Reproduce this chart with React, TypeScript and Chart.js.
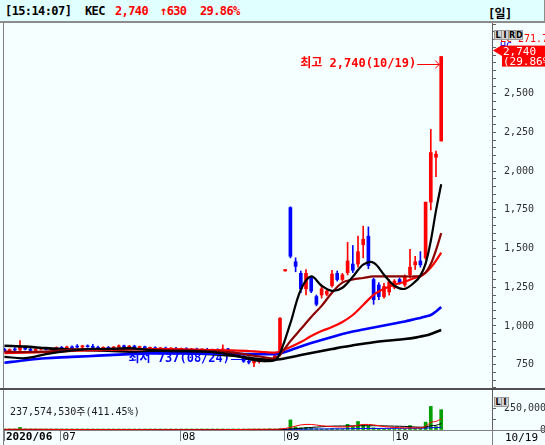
import React, { useEffect, useRef } from 'react';
import { Chart, registerables } from 'chart.js';

Chart.register(...registerables);

const W = 545;
const H = 445;
const BG = '#F5FFFF';
const MONO = '"DejaVu Sans Mono", "Noto Sans CJK KR", monospace';
const UP = '#FF0000';
const DOWN = '#0000FF';

// ---- Daily candles, 2020-06-16 .. 2020-10-19 (KRW) ----
const OPEN = [
  850, 840, 848, 845, 862, 850, 842, 850, 855, 848,
  852, 860, 855, 865, 870, 864, 872, 868, 862, 856,
  860, 855, 864, 872, 864, 870, 861, 866, 856, 860,
  853, 858, 851, 856, 849, 854, 846, 851, 844, 849,
  841, 847, 839, 852, 831, 820, 806, 772, 762, 771,
  778, 783, 790, 815, 1355, 1765, 1415, 1340, 1240, 1310,
  1190, 1200, 1205, 1260, 1340, 1300, 1345, 1400, 1400, 1525,
  1580, 1300, 1265, 1190, 1220, 1250, 1300, 1265, 1330, 1395,
  1420, 1440, 1800, 2090, 2195,
];
const HIGH = [
  858, 852, 860, 905, 870, 858, 855, 862, 860, 858,
  865, 868, 870, 872, 880, 876, 878, 882, 870, 866,
  868, 868, 878, 876, 874, 876, 870, 870, 864, 866,
  862, 864, 860, 862, 858, 860, 856, 857, 854, 856,
  852, 853, 878, 856, 838, 826, 810, 786, 776, 783,
  790, 796, 812, 1055, 1365, 1770, 1440, 1355, 1365, 1320,
  1200, 1265, 1240, 1360, 1355, 1340, 1540, 1520, 1580, 1645,
  1640, 1310, 1280, 1275, 1300, 1300, 1310, 1330, 1495, 1450,
  1480, 1800, 2270, 2130, 2740,
];
const LOW = [
  835, 832, 838, 840, 845, 838, 835, 845, 845, 842,
  848, 850, 852, 855, 860, 858, 862, 860, 852, 850,
  852, 852, 860, 860, 858, 858, 854, 852, 848, 850,
  846, 848, 843, 846, 842, 843, 840, 841, 838, 838,
  834, 836, 836, 826, 815, 800, 765, 755, 737, 760,
  768, 774, 784, 805, 1355, 1440, 1350, 1215, 1200, 1215,
  1130, 1180, 1195, 1250, 1290, 1290, 1330, 1345, 1380, 1440,
  1370, 1140, 1170, 1180, 1200, 1240, 1270, 1255, 1310, 1365,
  1380, 1430, 1750, 1965, 2195,
];
const CLOSE = [
  840, 848, 845, 862, 850, 842, 850, 855, 848, 852,
  860, 855, 865, 858, 864, 872, 866, 862, 856, 860,
  855, 864, 872, 864, 870, 861, 866, 856, 860, 853,
  858, 851, 856, 849, 854, 846, 851, 844, 849, 841,
  847, 839, 852, 831, 820, 806, 772, 766, 771, 778,
  783, 789, 808, 1050, 1365, 1450, 1385, 1240, 1340, 1225,
  1140, 1240, 1225, 1335, 1300, 1330, 1420, 1360, 1480, 1560,
  1390, 1170, 1190, 1255, 1285, 1290, 1280, 1315, 1380, 1415,
  1395, 1800, 2120, 2110, 2740,
];
// volume, thousand shares
const VOLUME = [
  6000, 5000, 5000, 30000, 12000, 6000, 5000, 5000, 4000, 4000,
  5000, 6000, 7000, 5000, 6000, 5000, 5000, 6000, 4000, 4000,
  4000, 5000, 6000, 5000, 5000, 4000, 4000, 4000, 4000, 3000,
  3000, 4000, 4000, 3000, 4000, 3000, 3000, 3000, 3000, 3000,
  3000, 3000, 8000, 6000, 6000, 7000, 10000, 8000, 9000, 6000,
  6000, 14000, 10000, 15000, 6000, 118000, 35000, 25000, 30000, 20000,
  15000, 12000, 10000, 18000, 14000, 12000, 66000, 40000, 100000, 60000,
  45000, 25000, 18000, 15000, 12000, 10000, 9000, 14000, 52000, 20000,
  18000, 92000, 276000, 40000, 237575,
];

// ---- Moving averages, read at these day indexes ----
const MA_IDX = [0, 4, 8, 12, 16, 20, 24, 28, 32, 36, 40, 44, 48, 50, 52, 53, 55, 57, 59, 61, 63, 65, 67, 69, 71, 73, 75, 77, 79, 80, 81, 82, 83, 84];
const MA5 = [801, 792, 818, 838, 851, 851, 857, 844, 838, 838, 831, 812, 779, 773, 779, 823, 1018, 1234, 1320, 1260, 1227, 1247, 1318, 1396, 1409, 1331, 1260, 1240, 1286, 1325, 1403, 1550, 1745, 1915];
const MA10 = [835, 832, 835, 845, 850, 852, 852, 848, 845, 843, 838, 828, 808, 798, 792, 815, 902, 980, 1058, 1130, 1215, 1280, 1300, 1310, 1320, 1320, 1320, 1320, 1320, 1325, 1345, 1400, 1490, 1600];
const MA20 = [825, 828, 832, 838, 843, 846, 848, 850, 850, 848, 845, 842, 836, 832, 828, 835, 864, 896, 935, 967, 993, 1026, 1071, 1136, 1201, 1240, 1266, 1286, 1312, 1320, 1344, 1377, 1422, 1474];
const MA60 = [762, 779, 792, 799, 805, 812, 818, 823, 823, 821, 821, 821, 818, 818, 818, 823, 844, 867, 890, 909, 929, 948, 964, 977, 990, 1003, 1016, 1029, 1045, 1052, 1062, 1071, 1094, 1123];
const MA120 = [872, 867, 857, 849, 844, 840, 834, 831, 828, 825, 818, 808, 790, 784, 782, 785, 798, 812, 825, 838, 851, 864, 875, 885, 895, 903, 909, 916, 925, 932, 938, 948, 961, 974];
const VMA5 = [8000, 9000, 7000, 6000, 5000, 5000, 5000, 4000, 4000, 3000, 3000, 5000, 8000, 8000, 9000, 10000, 30000, 60000, 65000, 50000, 40000, 35000, 45000, 65000, 60000, 40000, 30000, 25000, 25000, 25000, 40000, 90000, 100000, 130000];
const VMA20 = [6000, 6000, 6500, 6500, 6000, 5500, 5000, 5000, 4500, 4000, 3500, 4000, 5000, 5500, 6000, 7000, 12000, 20000, 30000, 38000, 45000, 47000, 48000, 50000, 50000, 48000, 45000, 42000, 35000, 33000, 36000, 50000, 55000, 75000];
const VMA60 = [5000, 5000, 5500, 5500, 5500, 5500, 5500, 5000, 5000, 5000, 4500, 4500, 4500, 4500, 5000, 5500, 8000, 9000, 11000, 12000, 13000, 14000, 15500, 17000, 18000, 19000, 19500, 20000, 20500, 21000, 22000, 27000, 28000, 32000];

// ---- Axis labels ----
const MONTH_LABELS = ['2020/06', '07', '08', '09', '10'];
const MONTH_START = [0, 11, 34, 54, 75];
const PRICE_LABELS = [750, 1000, 1250, 1500, 1750, 2000, 2250, 2500];
const PRICE_MINOR = { from: 600, to: 2950, step: 50 };
const VOL_TICKS = [0, 125000, 250000];
const VOL_LABELS = ['0', '', '250,000'];
const HIGH_DATE = '10/19';
const LOW_DATE = '08/24';
const LAST_DATE = '10/19';
const CLOCK = '15:14:07';
const TICKER = 'KEC';
const TODAY_VOLUME = 237574530;
const VOLUME_RATE = '411.45%';

const X_MIN = -0.08;
const X_MAX = 93.77;
const PRICE_MIN = 593;
const PRICE_MAX = 2957;
const VOL_MAX = 480000;

const fmt = (v: number) => v.toLocaleString('en-US');
const LAST = CLOSE.length - 1;
const CHANGE = CLOSE[LAST] - CLOSE[LAST - 1];
const CHANGE_PCT = ((CHANGE / CLOSE[LAST - 1]) * 100).toFixed(2) + '%';

function argMax(a: number[]) {
  let k = 0;
  a.forEach((v, i) => { if (v > a[k]) k = i; });
  return k;
}
function argMin(a: number[]) {
  let k = 0;
  a.forEach((v, i) => { if (v < a[k]) k = i; });
  return k;
}

function pointerLabel(ctx: CanvasRenderingContext2D, text: string, tipX: number, y: number, len: number, color: string) {
  ctx.fillStyle = color;
  ctx.strokeStyle = color;
  ctx.lineWidth = 1;
  const sx = tipX - len;
  const yy = Math.round(y);
  ctx.fillText(text, sx - 1, y);
  ctx.beginPath();
  ctx.moveTo(sx, yy + 0.5);
  ctx.lineTo(tipX, yy + 0.5);
  ctx.moveTo(tipX - 4, yy - 3.5);
  ctx.lineTo(tipX, yy + 0.5);
  ctx.lineTo(tipX - 4, yy + 4.5);
  ctx.stroke();
}

const overlayPlugin = {
  id: 'overlay',
  beforeDatasetsDraw(chart: any) {
    const { ctx, scales } = chart;
    const xs = scales.x;
    const ys = scales.y;
    const hi = argMax(HIGH);
    const lo = argMin(LOW);
    ctx.save();
    ctx.font = `bold 12px ${MONO}`;
    ctx.textBaseline = 'middle';
    ctx.textAlign = 'right';
    pointerLabel(ctx, `최고 ${fmt(HIGH[hi])}(${HIGH_DATE})`, xs.getPixelForValue(hi) - 2, ys.getPixelForValue(HIGH[hi]) + 7, 22, UP);
    pointerLabel(ctx, `최저 ${fmt(LOW[lo])}(${LOW_DATE})`, xs.getPixelForValue(lo) - 2, ys.getPixelForValue(LOW[lo]) - 8, 21, DOWN);
    ctx.restore();
  },
  afterDraw(chart: any) {
    const { ctx, chartArea: ca, scales } = chart;
    const ys = scales.y;
    const yv = scales.yv;
    ctx.save();
    ctx.fillStyle = '#808080';
    ctx.fillRect(ca.left - 1, ca.top, 1, H - ca.top);
    ctx.fillRect(ca.right, ca.bottom, 1, H - ca.bottom);
    ctx.fillRect(ca.right, ca.bottom, W - ca.right, 1);
    ctx.fillStyle = '#505050';
    ctx.fillRect(0, Math.round(yv.top) - 1, W, 2);

    ctx.font = `10px ${MONO}`;
    ctx.textAlign = 'left';
    ctx.textBaseline = 'middle';
    ctx.fillStyle = UP;
    ctx.fillText('LC 271.7', ca.right + 8, 39);
    ctx.fillStyle = DOWN;
    ctx.fillText('HC', ca.right + 8, 47);

    const yc = ys.getPixelForValue(CLOSE[LAST]);
    const bx = ca.right + 10;
    ctx.fillStyle = UP;
    ctx.beginPath();
    ctx.moveTo(ca.right + 1, yc - 6);
    ctx.lineTo(bx, yc - 11.5);
    ctx.lineTo(bx, yc - 0.5);
    ctx.closePath();
    ctx.fill();
    ctx.fillRect(bx, yc - 11, W - bx, 21);
    ctx.fillStyle = '#FFFFFF';
    ctx.font = `11px ${MONO}`;
    ctx.fillText(fmt(CLOSE[LAST]), bx + 1, yc - 4);
    ctx.fillText(`(${CHANGE_PCT}`, bx + 1, yc + 6);
    ctx.restore();
  },
};

const candleColor = (c: any) => (CLOSE[c.dataIndex] >= OPEN[c.dataIndex] ? UP : DOWN);

const maLine = (vals: number[], color: string, width: number, order: number, axis = 'y') => ({
  type: 'line' as const,
  data: MA_IDX.map((x, j) => ({ x, y: vals[j] })),
  borderColor: color,
  borderWidth: width,
  pointRadius: 0,
  tension: 0.35,
  fill: false,
  yAxisID: axis,
  order,
});

// right-aligned labels in a monospace font
const padTo = (s: string, n: number) => (s ? s.padStart(n, ' ') : '');

export default function App() {
  const ref = useRef<HTMLCanvasElement>(null);

  useEffect(() => {
    document.body.style.margin = '0';
    const tickGrid = { drawOnChartArea: false, drawTicks: true, tickLength: 4, color: '#606060' };
    const chart = new Chart(ref.current as HTMLCanvasElement, {
      type: 'bar',
      data: {
        datasets: [
          maLine(MA5, '#000000', 2.2, 1),
          maLine(MA10, '#8C0000', 2.2, 2),
          maLine(MA20, '#FF0000', 2.2, 3),
          maLine(MA60, '#0000FF', 2.6, 4),
          maLine(MA120, '#000000', 2.6, 5),
          maLine(VMA5, '#FF0000', 1, 6, 'yv'),
          maLine(VMA20, '#000000', 1, 7, 'yv'),
          maLine(VMA60, '#0000FF', 1, 8, 'yv'),
          {
            type: 'bar',
            data: OPEN.map((_, i) => ({ x: i, y: [LOW[i], HIGH[i]] })),
            backgroundColor: candleColor,
            barThickness: 1,
            grouped: false,
            yAxisID: 'y',
            order: 11,
          },
          {
            type: 'bar',
            data: OPEN.map((o, i) => ({ x: i, y: [o, CLOSE[i]] })),
            backgroundColor: candleColor,
            barThickness: 3,
            minBarLength: 1,
            grouped: false,
            yAxisID: 'y',
            order: 10,
          },
          {
            type: 'bar',
            data: VOLUME.map((v, i) => ({ x: i, y: v })),
            backgroundColor: '#00A000',
            barThickness: 3,
            minBarLength: 1,
            grouped: false,
            yAxisID: 'yv',
            order: 12,
          },
        ] as any,
      },
      options: {
        animation: false,
        responsive: false,
        maintainAspectRatio: false,
        events: [],
        layout: { padding: { left: 4, top: 23, right: 0, bottom: 0 } },
        plugins: { legend: { display: false }, tooltip: { enabled: false } },
        scales: {
          x: {
            type: 'linear',
            min: X_MIN,
            max: X_MAX,
            offset: false,
            grid: { offset: false, drawOnChartArea: false, drawTicks: true, tickLength: 11, color: '#808080' },
            border: { display: true, color: '#808080' },
            ticks: {
              autoSkip: false,
              maxRotation: 0,
              minRotation: 0,
              align: 'start',
              labelOffset: 2,
              padding: -10,
              color: '#000000',
              font: (c: any) => (c.index === 0
                ? { family: MONO, size: 11, weight: 'bold' }
                : { family: MONO, size: 11 }),
              callback: (_v: any, i: number) => MONTH_LABELS[i] ?? '',
            },
            afterBuildTicks: (s: any) => {
              s.ticks = MONTH_START.map((m) => ({ value: Math.max(m - 0.2, X_MIN) }));
            },
            afterFit: (s: any) => { s.height = 15; },
          },
          y: {
            type: 'linear',
            position: 'right',
            stack: 'panes',
            stackWeight: 366,
            min: PRICE_MIN,
            max: PRICE_MAX,
            grid: tickGrid,
            border: { display: true, color: '#606060' },
            ticks: {
              autoSkip: false,
              crossAlign: 'near',
              padding: 8,
              color: '#303030',
              font: { family: MONO, size: 10 },
              callback: (v: any) => padTo(PRICE_LABELS.includes(Number(v)) ? fmt(Number(v)) : '', 5),
            },
            afterBuildTicks: (s: any) => {
              const t = [];
              for (let v = PRICE_MINOR.from; v <= PRICE_MINOR.to; v += PRICE_MINOR.step) t.push({ value: v });
              s.ticks = t;
            },
            afterFit: (s: any) => { s.width = 53; },
          },
          yv: {
            type: 'linear',
            position: 'right',
            stack: 'panes',
            stackWeight: 41,
            min: 0,
            max: VOL_MAX,
            grid: tickGrid,
            border: { display: true, color: '#606060' },
            ticks: {
              autoSkip: false,
              crossAlign: 'near',
              padding: 8,
              color: '#303030',
              font: { family: MONO, size: 10 },
              callback: (v: any) => padTo(VOL_LABELS[VOL_TICKS.indexOf(Number(v))] ?? '', 7),
            },
            afterBuildTicks: (s: any) => { s.ticks = VOL_TICKS.map((v) => ({ value: v })); },
            afterFit: (s: any) => { s.width = 53; },
          },
        },
      } as any,
      plugins: [overlayPlugin],
    });
    return () => chart.destroy();
  }, []);

  const hdr: React.CSSProperties = {
    position: 'absolute',
    top: 4,
    lineHeight: '15px',
    font: `bold 12px ${MONO}`,
    letterSpacing: '-0.6px',
    whiteSpace: 'nowrap',
  };
  const cell: React.CSSProperties = {
    display: 'inline-block',
    width: 6,
    height: 8,
    lineHeight: '8px',
    textAlign: 'center',
    font: 'bold 8px "DejaVu Sans"',
    color: '#000',
    background: '#D4D4D4',
    border: '1px solid #9A9A9A',
    marginRight: -1,
  };

  return (
    <div style={{ position: 'fixed', left: 0, top: 0, width: W, height: H, background: BG, overflow: 'hidden' }}>
      <canvas ref={ref} width={W} height={H} style={{ position: 'absolute', left: 0, top: 0, width: W, height: H }} />
      <div style={{ position: 'absolute', left: 0, top: 0, width: W - 1, height: 21, background: '#E0FFFF', borderBottom: '2px solid #8C8C8C', borderRight: '1px solid #8C8C8C' }}>
        <span style={{ ...hdr, left: 5, color: '#000' }}>[{CLOCK}]</span>
        <span style={{ ...hdr, left: 85, color: '#000' }}>{TICKER}</span>
        <span style={{ ...hdr, left: 115, color: UP }}>{fmt(CLOSE[LAST])}</span>
        <span style={{ ...hdr, left: 160, color: UP }}>↑{fmt(CHANGE)}</span>
        <span style={{ ...hdr, left: 200, color: UP }}>{CHANGE_PCT}</span>
        <span style={{ ...hdr, left: 488, color: '#000' }}>[일]</span>
      </div>
      <div style={{ position: 'absolute', left: 494, top: 24, whiteSpace: 'nowrap' }}>
        <span style={cell}>L</span><span style={cell}>I</span><span style={cell}>R</span><span style={cell}>D</span>
      </div>
      <div style={{ position: 'absolute', left: 494, top: 391, whiteSpace: 'nowrap' }}>
        <span style={cell}>L</span><span style={cell}>I</span>
      </div>
      <div style={{ position: 'absolute', left: 10, top: 406, font: `10px ${MONO}`, lineHeight: '12px', color: '#202020', whiteSpace: 'nowrap' }}>
        {fmt(TODAY_VOLUME)}주({VOLUME_RATE})
      </div>
      <div style={{ position: 'absolute', left: 505, top: 431, font: `11px ${MONO}`, lineHeight: '13px', color: '#000', whiteSpace: 'nowrap' }}>
        {LAST_DATE}
      </div>
    </div>
  );
}
